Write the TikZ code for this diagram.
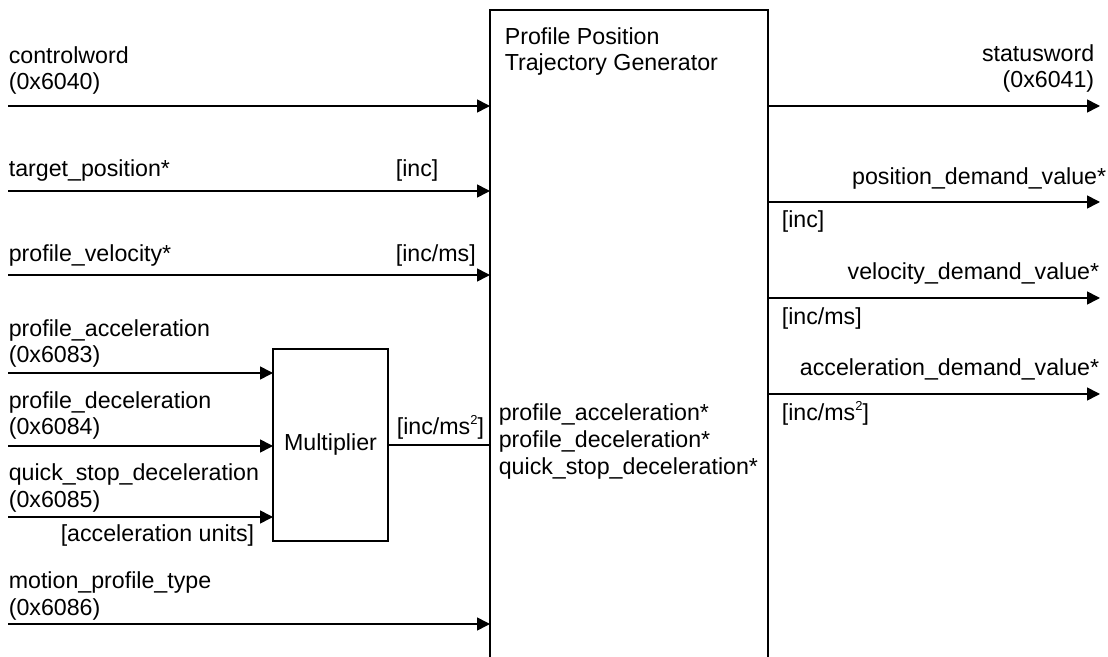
\documentclass[tikz,border=0pt]{standalone}
\usepackage{fontspec}
\setmainfont{Liberation Sans}
\usetikzlibrary{arrows.meta,positioning}
\newcommand{\sqr}{\raisebox{0.85ex}{\fontsize{6.5}{6.5}\selectfont 2}}

\begin{document}
\begin{tikzpicture}[x=0.5pt, y=-0.5pt, line width=0.8pt,
    every node/.style={font=\fontsize{11.6}{13.3}\selectfont, inner sep=0pt},
    sig/.style={-{Triangle[length=6.5pt,width=6.5pt]}},
    blk/.style={draw, outer sep=0pt},
    txt/.style={anchor=base west, align=left},
    rtxt/.style={anchor=base east, align=right}]
\useasboundingbox (0,0) rectangle (1108,657);

% blocks (the generator runs on below the page)
\node[blk, anchor=north west, minimum width=139pt, minimum height=350pt] (gen) at (490,10) {};
\node[blk, minimum width=57.5pt, minimum height=96pt] (mult) at (330.5,445) {Multiplier};
\node[txt] (title) at (504,71) {Profile Position\\Trajectory Generator};

% inputs
\coordinate (cw) at (8,106);
\coordinate (tp) at (8,191);
\coordinate (pv) at (8,275);
\coordinate (pa) at (8,373);
\coordinate (pd) at (8,446);
\coordinate (qs) at (8,517);
\coordinate (mpt) at (8,624);
\draw[sig] (cw) -- (cw -| gen.west);
\draw[sig] (tp) -- (tp -| gen.west);
\draw[sig] (pv) -- (pv -| gen.west);
\draw[sig] (pa) -- (pa -| mult.west);
\draw[sig] (pd) -- (pd -| mult.west);
\draw[sig] (qs) -- (qs -| mult.west);
\draw[sig] (mpt) -- (mpt -| gen.west);
\draw (mult.east) -- (mult.east -| gen.west);

% multi-line labels sit on their last baseline
\node[txt] (cwl) at (8,90) {controlword\\(0x6040)};
\node[txt] (tpl) at (8,177) {target\_position*};
\node[txt] (pvl) at (8,262) {profile\_velocity*};
\node[txt] (pal) at (8,363) {profile\_acceleration\\(0x6083)};
\node[txt] (pdl) at (8,435) {profile\_deceleration\\(0x6084)};
\node[txt] (qsl) at (8,507) {quick\_stop\_deceleration\\(0x6085)};
\node[rtxt] (aul) at (255,541) {[acceleration units]};
\node[txt] (mpl) at (8,615) {motion\_profile\_type\\(0x6086)};
\node[txt] (tpu) at (395,177) {[inc]};
\node[txt] (pvu) at (395,262) {[inc/ms]};
\node[txt] (mu) at (396,435) {[inc/ms\sqr]};
\node[txt] (gin) at (498,474) {profile\_acceleration*\\profile\_deceleration*\\quick\_stop\_deceleration*};

% outputs
\coordinate (sw) at (1100,106);
\coordinate (pdv) at (1100,202);
\coordinate (vdv) at (1100,298);
\coordinate (adv) at (1100,394);
\draw[sig] (sw -| gen.east) -- (sw);
\draw[sig] (pdv -| gen.east) -- (pdv);
\draw[sig] (vdv -| gen.east) -- (vdv);
\draw[sig] (adv -| gen.east) -- (adv);

\node[rtxt] (swl) at (1095,88) {statusword\\(0x6041)};
\node[rtxt] (pdvl) at (1107,185) {position\_demand\_value*};
\node[txt] (pdvu) at (781,228) {[inc]};
\node[rtxt] (vdvl) at (1100,280) {velocity\_demand\_value*};
\node[txt] (vdvu) at (781,325) {[inc/ms]};
\node[rtxt] (advl) at (1100,376) {acceleration\_demand\_value*};
\node[txt] (advu) at (781,421) {[inc/ms\sqr]};
\end{tikzpicture}
\end{document}
